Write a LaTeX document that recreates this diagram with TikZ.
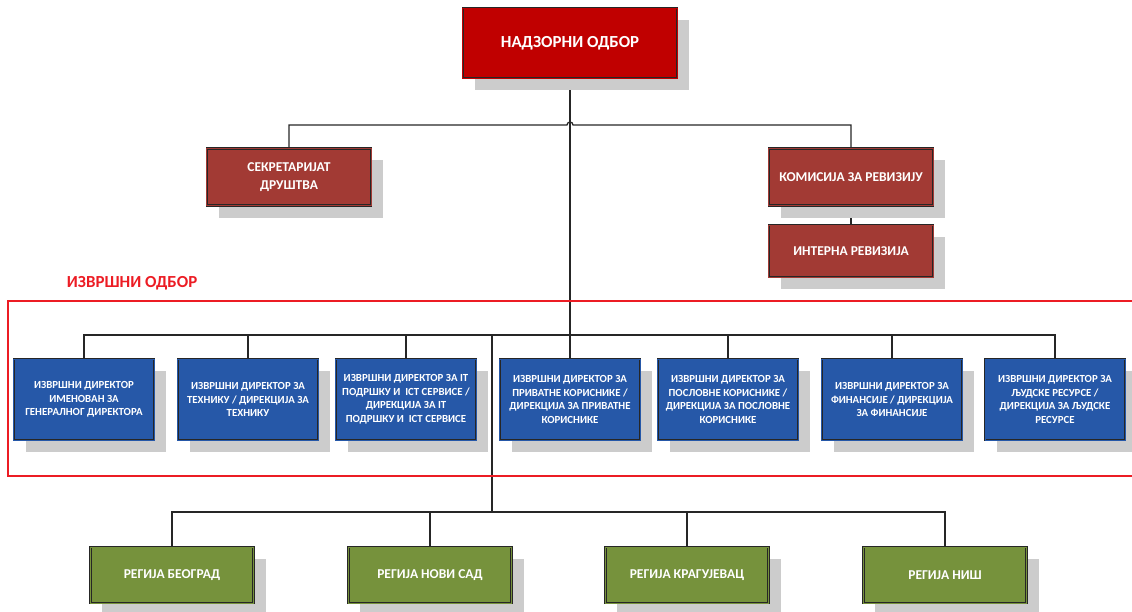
\documentclass[tikz,border=0pt]{standalone}
\usepackage{fontspec}
\setmainfont{Carlito}
\usepackage{tikz}
\usetikzlibrary{shapes,calc,positioning,backgrounds,shadows}

\definecolor{boardred}{RGB}{192,0,0}
\definecolor{unitred}{RGB}{162,58,52}
\definecolor{dirblue}{RGB}{38,88,168}
\definecolor{regiongreen}{RGB}{118,146,60}
\definecolor{framered}{RGB}{236,28,36}

\tikzset{
  orgbox/.style={rectangle, draw=black!85, line width=0.45pt, double distance=0.7pt, text=white, align=center, inner sep=2pt,
    drop shadow={shadow xshift=0.3cm, shadow yshift=-0.3cm, fill=black!20, opacity=1}},
  boardbox/.style={orgbox, fill=boardred, double=boardred, minimum width=5.35cm, minimum height=1.75cm, font=\bfseries\fontsize{12}{14}\selectfont},
  unitbox/.style={orgbox, fill=unitred, double=unitred, minimum width=4.1cm, minimum height=1.425cm, font=\bfseries\fontsize{9.6}{12.5}\selectfont},
  dirbox/.style={orgbox, fill=dirblue, double=dirblue, minimum width=3.5cm, minimum height=2.025cm, font=\bfseries\fontsize{7.7}{9.6}\selectfont},
  regbox/.style={orgbox, fill=regiongreen, double=regiongreen, minimum width=4.075cm, minimum height=1.4cm, font=\bfseries\fontsize{9.6}{11}\selectfont},
  link/.style={draw=black!85, line width=0.9pt}
}

\begin{document}
\begin{tikzpicture}[x=0.025cm, y=-0.025cm]

    \clip (0,0) rectangle (1132,612);

    % Frame
    \draw[framered, line width=0.8pt] (8,301) rectangle (1150,476);
    \node[text=framered, font=\bfseries\fontsize{12}{14}\selectfont, anchor=west] (execlabel) at (62,283) {ИЗВРШНИ ОДБОР};

    % Nodes
    \node[boardbox] (board) at (570,43) {НАДЗОРНИ ОДБОР};
    \node[unitbox] (secr) at (289,177) {СЕКРЕТАРИЈАТ\\ДРУШТВА};
    \node[unitbox] (comm) at (851,177) {КОМИСИЈА ЗА РЕВИЗИЈУ};
    \node[unitbox, minimum height=1.3cm] (audit) at (851,251) {ИНТЕРНА РЕВИЗИЈА};

    \node[dirbox] (dir1) at (84,399.5) {ИЗВРШНИ ДИРЕКТОР\\ИМЕНОВАН ЗА\\ГЕНЕРАЛНОГ ДИРЕКТОРА};
    \node[dirbox] (dir2) at (248,399.5) {ИЗВРШНИ ДИРЕКТОР ЗА\\ТЕХНИКУ / ДИРЕКЦИЈА ЗА\\ТЕХНИКУ};
    \node[dirbox] (dir3) at (406,399.5) {ИЗВРШНИ ДИРЕКТОР ЗА IT\\ПОДРШКУ И\ \ ICT СЕРВИСЕ /\\ДИРЕКЦИЈА ЗА IT\\ПОДРШКУ И\ \ ICT СЕРВИСЕ};
    \node[dirbox] (dir4) at (570,399.5) {ИЗВРШНИ ДИРЕКТОР ЗА\\ПРИВАТНЕ КОРИСНИКЕ /\\ДИРЕКЦИЈА ЗА ПРИВАТНЕ\\КОРИСНИКЕ};
    \node[dirbox] (dir5) at (728,399.5) {ИЗВРШНИ ДИРЕКТОР ЗА\\ПОСЛОВНЕ КОРИСНИКЕ /\\ДИРЕКЦИЈА ЗА ПОСЛОВНЕ\\КОРИСНИКЕ};
    \node[dirbox] (dir6) at (892,399.5) {ИЗВРШНИ ДИРЕКТОР ЗА\\ФИНАНСИЈЕ / ДИРЕКЦИЈА\\ЗА ФИНАНСИЈЕ};
    \node[dirbox] (dir7) at (1055,399.5) {ИЗВРШНИ ДИРЕКТОР ЗА\\ЉУДСКЕ РЕСУРСЕ /\\ДИРЕКЦИЈА ЗА ЉУДСКЕ\\РЕСУРСЕ};

    \node[regbox] (reg1) at (172,575) {РЕГИЈА БЕОГРАД};
    \node[regbox] (reg2) at (430,575) {РЕГИЈА НОВИ САД};
    \node[regbox] (reg3) at (687,575) {РЕГИЈА КРАГУЈЕВАЦ};
    \node[regbox] (reg4) at (945,575) {РЕГИЈА НИШ};

    % Buses
    \coordinate (topbus) at (570,125);
    \coordinate (dirbus) at (570,335);
    \coordinate (regtop) at (492,335);
    \coordinate (regbus) at (492,512);

    % Connectors
    \begin{scope}[on background layer]
      \draw[link] (board.south) -- (dir4.north);
      \draw[link] (secr.north) |- ($(topbus)+(-3,0)$) arc[start angle=180, end angle=0, radius=0.075cm] -| (comm.north);
      \draw[link] (comm) -- (audit);
      \draw[link] (dir1.north) |- (dirbus) -| (dir7.north);
      \foreach \i in {2,3,5,6}
        \draw[link] (dir\i.north) -- (dir\i.north |- dirbus);
      \draw[link] (regtop) -- (regbus);
      \draw[link] (reg1.north) |- (regbus) -| (reg4.north);
      \foreach \i in {2,3}
        \draw[link] (reg\i.north) -- (reg\i.north |- regbus);
    \end{scope}
  \end{tikzpicture}
\end{document}
